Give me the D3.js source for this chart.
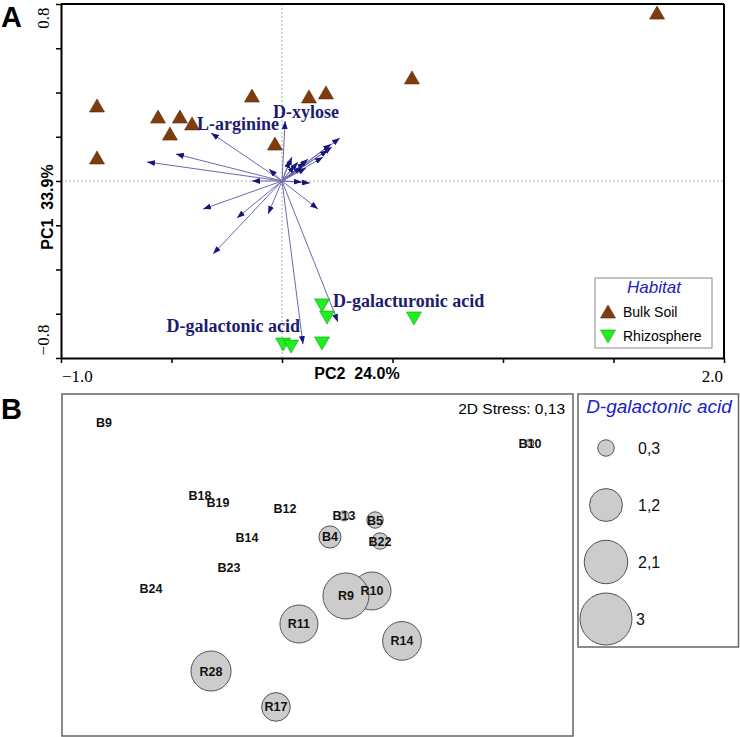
<!DOCTYPE html>
<html>
<head>
<meta charset="utf-8">
<script src="https://cdn.jsdelivr.net/npm/d3@7"></script>
<style>
body{margin:0;background:#fff;}
svg{display:block;}
</style>
</head>
<body>
<svg id="chart" width="740" height="737"></svg>
<script>
// ---------- Panel A data (PCA biplot) ----------
const habitats = ["Bulk Soil", "Rhizosphere"];
const bulkPC2 = [-0.837, -0.837, -0.561, -0.462, -0.407, -0.507, -0.136, 0.122, 0.199, -0.032, 1.697, 0.588];
const bulkPC1 = [0.339, 0.104, 0.289, 0.289, 0.258, 0.212, 0.384, 0.380, 0.398, 0.167, 0.759, 0.466];
const rhizoPC2 = [0.181, 0.204, 0.005, 0.041, 0.181, 0.597];
const rhizoPC1 = [-0.560, -0.615, -0.737, -0.746, -0.732, -0.619];
// variable loadings (arrows)
const varNames = ["D-xylose", "L-arginine", "", "", "", "", "", "", "", "", "", "", "", "", "", "", "", "", "", "", "", "", "", "", "", "", "D-galactonic acid", "D-galacturonic acid"];
const varPC2 = [0.014, -0.321, -0.611, -0.480, 0.262, 0.222, 0.226, 0.208, 0.186, 0.118, 0.104, 0.072, 0.045, 0.036, 0.059, 0.090, 0.109, -0.059, -0.136, 0.127, 0.090, -0.357, -0.204, -0.063, 0.163, -0.312, 0.095, 0.253];
const varPC1 = [0.271, 0.217, 0.086, 0.122, 0.194, 0.167, 0.154, 0.140, 0.108, 0.099, 0.086, 0.086, 0.108, 0.095, 0.072, 0.063, 0.059, 0.054, 0.000, -0.009, -0.005, -0.127, -0.167, -0.149, -0.127, -0.330, -0.737, -0.637];
const xTicksA = [-1.0, -0.5, 0, 0.5, 1.0, 1.5, 2.0];
const yTicksA = [-0.8, -0.6, -0.4, -0.2, 0, 0.2, 0.4, 0.6, 0.8];

// ---------- Panel B data (NMDS bubble plot) ----------
const sampleNames = ["B9", "B10", "B18", "B19", "B12", "B13", "B14", "B4", "B5", "B22", "B23", "B24", "R10", "R9", "R11", "R14", "R28", "R17"];
const nmdsX = [-1.253, 1.248, -0.690, -0.584, -0.191, 0.156, -0.414, 0.073, 0.338, 0.367, -0.520, -0.978, 0.320, 0.167, -0.109, 0.496, -0.625, -0.244];
const nmdsY = [0.836, 0.713, 0.409, 0.368, 0.333, 0.287, 0.158, 0.164, 0.263, 0.140, -0.012, -0.135, -0.152, -0.181, -0.345, -0.444, -0.620, -0.830];
const galactonic = [0, 0.07, 0, 0, 0, 0.11, 0, 0.54, 0.30, 0.30, 0, 0, 1.60, 2.35, 1.60, 1.66, 1.78, 0.91];
const bubbleLegend = [0.3, 1.2, 2.1, 3];
const bubbleLegendLabels = ["0,3", "1,2", "2,1", "3"];
const stressText = "2D Stress: 0,13";

const SANS = "'Liberation Sans', Arial, Helvetica, sans-serif";
const SERIF = "'Liberation Serif', 'Times New Roman', Times, serif";
const svg = d3.select("#chart");

// ================= Panel A =================
const xA = d3.scaleLinear().domain([-1, 2]).range([61, 724]);
const yA = d3.scaleLinear().domain([-0.8, 0.8]).range([358, 4]);
const gA = svg.append("g");

// dotted reference lines
gA.append("line").attr("x1", xA(0)).attr("x2", xA(0)).attr("y1", yA(0.8)).attr("y2", yA(-0.8))
  .attr("stroke", "#999").attr("stroke-width", 0.8).attr("stroke-dasharray", "2,2");
gA.append("line").attr("x1", xA(-1)).attr("x2", xA(2)).attr("y1", yA(0)).attr("y2", yA(0))
  .attr("stroke", "#999").attr("stroke-width", 0.8).attr("stroke-dasharray", "2,2");

// frame top/right
gA.append("line").attr("x1", xA(-1)).attr("x2", xA(2)).attr("y1", yA(0.8)).attr("y2", yA(0.8))
  .attr("stroke", "#000").attr("stroke-width", 2);
gA.append("line").attr("x1", xA(2)).attr("x2", xA(2)).attr("y1", yA(0.8)).attr("y2", yA(-0.8))
  .attr("stroke", "#000").attr("stroke-width", 2);

// axes
const axL = gA.append("g").attr("transform", `translate(${xA(-1)},0)`)
  .call(d3.axisLeft(yA).tickValues(yTicksA).tickSizeInner(5).tickSizeOuter(0).tickFormat(""));
const axB = gA.append("g").attr("transform", `translate(0,${yA(-0.8)})`)
  .call(d3.axisBottom(xA).tickValues(xTicksA).tickSizeInner(5).tickSizeOuter(0).tickFormat(""));
[axL, axB].forEach(a => {
  a.select(".domain").attr("stroke", "#000").attr("stroke-width", 2);
  a.selectAll(".tick line").attr("stroke", "#000").attr("stroke-width", 1.5);
});

// tick labels (only extremes)
gA.append("text").attr("transform", `translate(49,${yA(0.8) + 14}) rotate(-90)`)
  .attr("text-anchor", "middle").attr("font-family", SERIF).attr("font-size", 17).text(d3.format(".1f")(yTicksA[8]));
gA.append("text").attr("transform", `translate(49,${yA(-0.8) - 18}) rotate(-90)`)
  .attr("text-anchor", "middle").attr("font-family", SERIF).attr("font-size", 17).text(d3.format(".1f")(yTicksA[0]));
gA.append("text").attr("x", xA(-1) + 1).attr("y", 382).attr("text-anchor", "start")
  .attr("font-family", SERIF).attr("font-size", 17).text(d3.format(".1f")(xTicksA[0]));
gA.append("text").attr("x", xA(2) - 1).attr("y", 382).attr("text-anchor", "end")
  .attr("font-family", SERIF).attr("font-size", 17).text(d3.format(".1f")(xTicksA[6]));

// axis titles
gA.append("text").attr("transform", `translate(53,207) rotate(-90)`).attr("text-anchor", "middle")
  .attr("font-family", SANS).attr("font-weight", "bold").attr("font-size", 16)
  .attr("xml:space", "preserve").text("PC1  33.9%");
gA.append("text").attr("x", 357).attr("y", 379).attr("text-anchor", "middle")
  .attr("font-family", SANS).attr("font-weight", "bold").attr("font-size", 16)
  .attr("xml:space", "preserve").text("PC2  24.0%");

// arrows
const defs = svg.append("defs");
defs.append("marker").attr("id", "ah").attr("viewBox", "0 -3 8 6").attr("refX", 8).attr("refY", 0)
  .attr("markerUnits", "userSpaceOnUse").attr("markerWidth", 8).attr("markerHeight", 6).attr("orient", "auto")
  .append("path").attr("d", "M0,-3L8,0L0,3Z").attr("fill", "#16167a");

const arrows = varPC2.map((v, i) => ({ x: v, y: varPC1[i], name: varNames[i] }));
gA.append("g").selectAll("line").data(arrows).join("line")
  .attr("x1", xA(0)).attr("y1", yA(0))
  .attr("x2", d => xA(d.x)).attr("y2", d => yA(d.y))
  .attr("stroke", "#6a6ab0").attr("stroke-width", 1).attr("marker-end", "url(#ah)");

// triangles
const triUp = (x, y) => `M${x - 7.5},${y + 6}L${x + 7.5},${y + 6}L${x},${y - 7}Z`;
const triDown = (x, y) => `M${x - 7.5},${y - 6}L${x + 7.5},${y - 6}L${x},${y + 7}Z`;
const bulk = bulkPC2.map((v, i) => ({ x: v, y: bulkPC1[i] }));
const rhizo = rhizoPC2.map((v, i) => ({ x: v, y: rhizoPC1[i] }));
gA.append("g").selectAll("path").data(bulk).join("path")
  .attr("d", d => triUp(xA(d.x), yA(d.y))).attr("fill", "#7e3c0e").attr("stroke", "#5a2a08").attr("stroke-width", 0.6);
gA.append("g").selectAll("path").data(rhizo).join("path")
  .attr("d", d => triDown(xA(d.x), yA(d.y))).attr("fill", "#1ef01e").attr("stroke", "#169a16").attr("stroke-width", 0.6);

// variable labels
const labelPos = {
  "D-xylose": [273, 118, "start"],
  "L-arginine": [197, 130, "start"],
  "D-galactonic acid": [300, 332, "end"],
  "D-galacturonic acid": [333, 307, "start"]
};
gA.append("g").selectAll("text").data(arrows.filter(d => d.name)).join("text")
  .attr("x", d => labelPos[d.name][0]).attr("y", d => labelPos[d.name][1])
  .attr("text-anchor", d => labelPos[d.name][2])
  .attr("font-family", SERIF).attr("font-weight", "bold").attr("font-size", 18)
  .attr("fill", "#1c1c70").text(d => d.name);

// legend A
const lgA = gA.append("g");
lgA.append("rect").attr("x", 595).attr("y", 278).attr("width", 117).attr("height", 70)
  .attr("fill", "#fff").attr("stroke", "#888").attr("stroke-width", 1);
lgA.append("text").attr("x", 654).attr("y", 293).attr("text-anchor", "middle")
  .attr("font-family", SANS).attr("font-style", "italic").attr("font-size", 17).attr("fill", "#2020c8").text("Habitat");
lgA.append("path").attr("d", triUp(608, 312)).attr("fill", "#7e3c0e").attr("stroke", "#5a2a08").attr("stroke-width", 0.6);
lgA.append("path").attr("d", triDown(608, 336)).attr("fill", "#1ef01e").attr("stroke", "#169a16").attr("stroke-width", 0.6);
lgA.selectAll("text.lab").data(habitats).join("text").attr("class", "lab")
  .attr("x", 623).attr("y", (d, i) => 317 + i * 24)
  .attr("font-family", SANS).attr("font-size", 14).attr("fill", "#000").text(d => d);

// panel letters
svg.append("text").attr("x", 1).attr("y", 27).attr("font-family", SANS).attr("font-weight", "bold")
  .attr("font-size", 29).text("A");
svg.append("text").attr("x", 1).attr("y", 419).attr("font-family", SANS).attr("font-weight", "bold")
  .attr("font-size", 29).text("B");

// ================= Panel B =================
const xB = d3.scaleLinear().domain([-1.5, 1.5]).range([62, 573]);
const yB = d3.scaleLinear().domain([-1, 1]).range([736, 394]);
const rB = d3.scaleSqrt().domain([0, 3]).range([0, 26]);
const gB = svg.append("g");
gB.append("rect").attr("x", 62).attr("y", 394).attr("width", 511).attr("height", 342)
  .attr("fill", "none").attr("stroke", "#666").attr("stroke-width", 1.5);
gB.append("text").attr("x", 565).attr("y", 414).attr("text-anchor", "end")
  .attr("font-family", SANS).attr("font-size", 15.5).text(stressText);

const samples = sampleNames.map((n, i) => ({ name: n, x: nmdsX[i], y: nmdsY[i], v: galactonic[i] }));
gB.append("g").selectAll("circle").data(samples.filter(d => d.v > 0)).join("circle")
  .attr("cx", d => xB(d.x)).attr("cy", d => yB(d.y)).attr("r", d => rB(d.v))
  .attr("fill", "#cccccc").attr("stroke", "#444").attr("stroke-width", 0.9);
gB.append("g").selectAll("text").data(samples).join("text")
  .attr("x", d => xB(d.x)).attr("y", d => yB(d.y) + 4.5).attr("text-anchor", "middle")
  .attr("font-family", SANS).attr("font-weight", "bold").attr("font-size", 12.5).attr("fill", "#111")
  .text(d => d.name);

// legend B
const lgB = svg.append("g");
lgB.append("rect").attr("x", 578).attr("y", 394).attr("width", 160.5).attr("height", 253)
  .attr("fill", "#fff").attr("stroke", "#666").attr("stroke-width", 1.5);
lgB.append("text").attr("x", 659).attr("y", 413).attr("text-anchor", "middle")
  .attr("font-family", SANS).attr("font-style", "italic").attr("font-size", 19).attr("fill", "#2020c8")
  .text("D-galactonic acid");
const legCy = [448, 505, 562, 619];
lgB.selectAll("circle").data(bubbleLegend).join("circle")
  .attr("cx", 606).attr("cy", (d, i) => legCy[i]).attr("r", d => rB(d))
  .attr("fill", "#cccccc").attr("stroke", "#444").attr("stroke-width", 0.9);
lgB.selectAll("text.bl").data(bubbleLegendLabels).join("text").attr("class", "bl")
  .attr("x", (d, i) => i === 3 ? 636 : 638).attr("y", (d, i) => legCy[i] + 6)
  .attr("font-family", SANS).attr("font-size", 16).attr("fill", "#111").text(d => d);
</script>
</body>
</html>
